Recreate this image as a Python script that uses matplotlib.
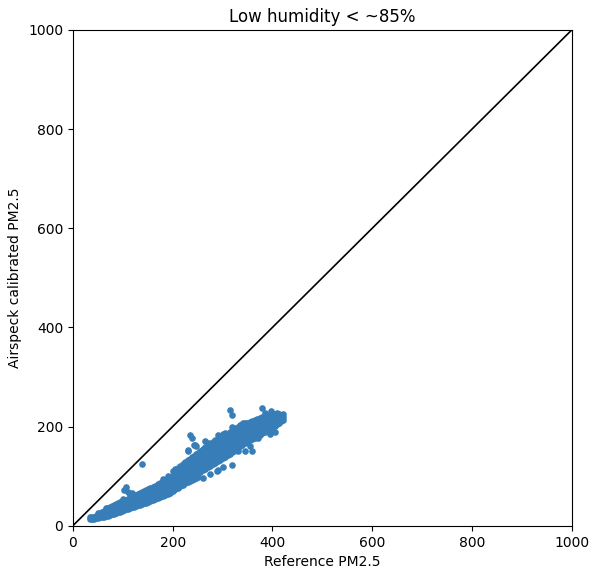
import matplotlib
matplotlib.use("Agg")
import matplotlib.pyplot as plt

# reference PM2.5 (column) and the airspeck calibrated values seen at that column,
# read off the picture
ref_cols = [35, 38, 42, 46, 50, 54, 58, 62, 66, 70, 74, 78, 82, 86, 90, 94, 98,
            102, 106, 110, 114, 118, 122, 126, 130, 134, 138, 142, 146, 150,
            155, 160, 165, 170, 175, 180, 185, 190, 195, 200,
            205, 210, 215, 220, 225, 230, 234, 238, 242, 246, 250,
            255, 260, 265, 270, 275, 280, 285, 290, 295, 300,
            305, 310, 314, 318, 322, 326, 330, 335, 340, 345, 350,
            355, 360, 365, 370, 375, 380, 385, 390, 395, 400,
            405, 410, 414, 418, 421]
airspeck_cols = [
    [13, 17], [14, 18], [14, 18], [15, 20], [16, 21, 25],
    [17, 22, 26], [18, 23, 28], [18, 24, 30], [19, 25, 31, 35],
    [20, 26, 32, 36], [22, 28, 33, 38], [23, 29, 35, 40],
    [24, 31, 37, 42], [25, 32, 38, 44], [27, 34, 40, 45],
    [28, 35, 42, 47], [30, 37, 43, 49],
    [31, 38, 45, 50, 72], [33, 40, 47, 52, 78], [34, 42, 48, 54, 68],
    [35, 43, 50, 56, 62], [37, 45, 52, 58, 66], [38, 47, 54, 60],
    [40, 48, 56, 62], [41, 50, 57, 64], [42, 52, 59, 66],
    [44, 53, 61, 68, 125], [45, 55, 62, 70], [46, 56, 64, 72],
    [48, 58, 66, 74],
    [50, 60, 68, 76], [52, 62, 70, 79], [54, 64, 72, 81],
    [56, 66, 75, 84], [58, 68, 78, 87], [60, 70, 80, 90],
    [62, 72, 82, 93], [64, 75, 85, 96], [66, 78, 88, 99],
    [70, 80, 91, 102, 111],
    [74, 84, 94, 105, 114], [77, 87, 97, 108, 117], [80, 90, 100, 111, 120],
    [83, 93, 104, 114, 124], [86, 96, 107, 118, 128], [89, 99, 110, 121, 132, 150],
    [91, 102, 113, 124, 135, 183], [93, 104, 115, 127, 138, 177],
    [95, 107, 118, 130, 141, 163], [97, 110, 121, 133, 144, 161],
    [99, 113, 124, 136, 147],
    [108, 118, 128, 140, 151], [96, 112, 122, 132, 143, 154], [115, 125, 136, 147, 158],
    [118, 129, 140, 151, 162], [104, 121, 132, 143, 154, 165], [124, 135, 146, 157, 168],
    [127, 138, 149, 160, 171], [112, 130, 141, 152, 163, 174], [133, 144, 155, 166, 177],
    [118, 136, 147, 158, 169, 180],
    [139, 150, 161, 172, 183, 187], [142, 153, 164, 175, 186],
    [145, 156, 167, 178, 189, 234], [123, 148, 159, 170, 181, 192, 224],
    [151, 162, 173, 184, 195], [154, 165, 176, 187, 198], [157, 168, 179, 190, 200],
    [160, 171, 182, 193, 203], [163, 174, 185, 195, 205], [166, 177, 188, 198, 207],
    [169, 180, 190, 200, 208],
    [172, 183, 193, 202, 210], [150, 175, 186, 196, 204, 212], [178, 189, 199, 207, 214],
    [181, 192, 201, 209, 216], [184, 194, 203, 211, 218], [187, 197, 205, 213, 219, 237],
    [190, 199, 207, 215, 221, 228], [193, 202, 210, 217, 223], [187, 196, 205, 212, 219, 224],
    [199, 207, 214, 220, 225],
    [202, 209, 216, 222, 226], [205, 212, 218, 224, 228], [208, 214, 220, 226],
    [211, 217, 223], [214, 220, 225]]

# loose points on the fringes of the cloud
ref_extra = [264, 272, 284, 291, 300, 311, 318, 326, 334, 341, 350, 361, 355, 345,
             300, 330, 372, 395, 405, 250, 240, 225, 210, 200, 180, 160, 150, 100,
             120, 180, 190, 288, 244, 231, 398]
airspeck_extra = [170, 166, 172, 183, 186, 180, 200, 196, 190, 207, 203, 200, 160, 150,
                  140, 150, 178, 185, 190, 110, 100, 100, 85, 78, 62, 54, 70, 55,
                  62, 95, 100, 110, 163, 153, 232]

ref_pm = []
airspeck = []
for x, ys in zip(ref_cols, airspeck_cols):
    for y in ys:
        ref_pm.append(x)
        airspeck.append(y)
ref_pm += ref_extra
airspeck += airspeck_extra

fig, ax = plt.subplots(figsize=(5.92, 5.74), dpi=100)
fig.subplots_adjust(left=0.123, right=0.966, top=0.948, bottom=0.084)

ax.scatter(ref_pm, airspeck, s=14, color="#377eb8", zorder=2)
ax.plot([0, 1000], [0, 1000], color="black", lw=1.2, zorder=1)

ax.set_xlim(0, 1000)
ax.set_ylim(0, 1000)
ax.set_xticks([0, 200, 400, 600, 800, 1000])
ax.set_yticks([0, 200, 400, 600, 800, 1000])
ax.set_xlabel("Reference PM2.5")
ax.set_ylabel("Airspeck calibrated PM2.5")
ax.set_title("Low humidity < ~85%")

plt.savefig("out.png")
